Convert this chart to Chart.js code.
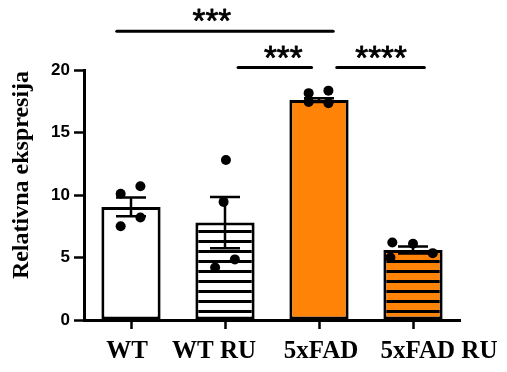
<!DOCTYPE html>
<html><head><meta charset="utf-8">
<script src="https://cdn.jsdelivr.net/npm/chart.js@4.4.1/dist/chart.umd.min.js"></script>
<style>html,body{margin:0;padding:0;background:#fff;}canvas{display:block;}</style>
</head><body>
<canvas id="c" width="507" height="372"></canvas>
<script>
// ---- data ----
const categories = ['WT', 'WT RU', '5xFAD', '5xFAD RU'];
const means = [9.05, 7.8, 17.6, 5.6];
const sems = [0.75, 2.05, 0.15, 0.28];
const pointsWT = [10.1, 10.7, 8.2, 7.5];
const pointsWTRU = [12.8, 9.45, 4.85, 4.2];
const points5xFAD = [18.15, 17.35, 18.35, 17.45];
const points5xFADRU = [6.2, 6.1, 5.35, 5.0];
const groupPoints = [pointsWT, pointsWTRU, points5xFAD, points5xFADRU];
const pointSpread = [[-0.11, 0.1, 0.1, -0.11], [0.01, -0.015, 0.105, -0.105], [-0.11, 0.1, 0.1, -0.11], [-0.22, 0, 0.21, -0.24]];
const yTicks = [0, 5, 10, 15, 20];
const yTitle = 'Relativna ekspresija';
// significance brackets: x extents on the group axis, level in y units, label
const sigSpans = [[-0.15, 2.15], [1.14, 1.92], [2.19, 3.12]];
const sigLevels = [23.1, 20.2, 20.2];
const sigLabelX = [0.86, 1.62, 2.66];
const sigLabels = ['***', '***', '****'];

// ---- drawing ----
const canvas = document.getElementById('c');
const ctx = canvas.getContext('2d');
const ORANGE = '#FF8307';
function hatch(bg) {
  const c = document.createElement('canvas'); c.width = 10; c.height = 10;
  const g = c.getContext('2d');
  g.fillStyle = bg; g.fillRect(0, 0, 10, 10);
  g.fillStyle = '#000'; g.fillRect(0, 0, 10, 3);
  return ctx.createPattern(c, 'repeat');
}
const fills = ['#ffffff', hatch('#ffffff'), ORANGE, hatch(ORANGE)];

const dots = [];
groupPoints.forEach((arr, i) => arr.forEach((v, k) => dots.push({x: i + pointSpread[i][k], y: v})));

const labelShift = [-4, -11, 2, 26];

const annot = {
  id: 'annot',
  afterDatasetsDraw(chart) {
    const c = chart.ctx, xs = chart.scales.x, ys = chart.scales.y;
    c.save();
    c.strokeStyle = '#000'; c.lineWidth = 2.5; c.lineCap = 'butt';
    means.forEach((m, i) => {
      const x = xs.getPixelForValue(i);
      const t = ys.getPixelForValue(m + sems[i]);
      const b = ys.getPixelForValue(m - sems[i]);
      c.beginPath();
      c.moveTo(x, t); c.lineTo(x, b);
      c.moveTo(x - 15, t); c.lineTo(x + 15, t);
      c.moveTo(x - 15, b); c.lineTo(x + 15, b);
      c.stroke();
    });
    c.restore();
  },
  afterDraw(chart) {
    const c = chart.ctx, xs = chart.scales.xd, ys = chart.scales.y;
    c.save();
    // brackets
    sigSpans.forEach((s, i) => {
      const y = ys.getPixelForValue(sigLevels[i]);
      c.strokeStyle = '#000'; c.lineWidth = 3.2; c.lineCap = 'round';
      c.beginPath();
      c.moveTo(xs.getPixelForValue(s[0]), y);
      c.lineTo(xs.getPixelForValue(s[1]), y);
      c.stroke();
      c.font = '33px "Liberation Sans"';
      c.fillStyle = '#000'; c.textAlign = 'center'; c.textBaseline = 'alphabetic';
      const m = c.measureText(sigLabels[i]);
      const yc = y - 16;
      const base = yc + (m.actualBoundingBoxAscent - m.actualBoundingBoxDescent) / 2;
      const tx = xs.getPixelForValue(sigLabelX[i]);
      c.fillText(sigLabels[i], tx, base);
      c.lineWidth = 0.8; c.lineCap = 'butt'; c.lineJoin = 'round';
      c.strokeText(sigLabels[i], tx, base);
    });
    // category labels
    c.font = 'bold 25px "Liberation Serif"';
    c.textAlign = 'center'; c.textBaseline = 'alphabetic'; c.fillStyle = '#000';
    categories.forEach((l, i) => {
      c.fillText(l, chart.scales.x.getPixelForValue(i) + labelShift[i], 358);
    });
    // y title
    c.translate(22, 175);
    c.rotate(-Math.PI / 2);
    c.font = 'bold 24px "Liberation Serif"';
    c.textBaseline = 'middle';
    c.fillText(yTitle, 0, 0);
    c.restore();
  }
};

new Chart(ctx, {
  type: 'bar',
  data: {
    labels: categories,
    datasets: [
      {type: 'bar', data: means, backgroundColor: fills, borderColor: '#000', borderWidth: 3,
       borderSkipped: false, barPercentage: 0.63, categoryPercentage: 1, grouped: false, order: 2},
      {type: 'scatter', data: dots, xAxisID: 'xd', yAxisID: 'y', pointRadius: 5,
       pointBackgroundColor: '#000', pointBorderWidth: 0, pointHoverRadius: 5, order: 1}
    ]
  },
  options: {
    responsive: false, animation: false, devicePixelRatio: 1,
    layout: {padding: {left: 0, top: 70, right: 47, bottom: 0}},
    plugins: {legend: {display: false}, tooltip: {enabled: false}},
    events: [],
    scales: {
      x: {type: 'category', offset: true,
          grid: {display: true, drawOnChartArea: false, drawTicks: true, tickLength: 9, tickWidth: 2.5, tickColor: '#000', offset: false},
          border: {display: true, color: '#000', width: 3},
          ticks: {display: false},
          afterFit(s) { s.height = 52; }},
      xd: {type: 'linear', display: false, offset: false, min: -0.5, max: 3.5, grid: {offset: false}},
      y: {type: 'linear', min: 0, max: 20,
          afterBuildTicks(s) { s.ticks = yTicks.map(v => ({value: v})); },
          ticks: {color: '#000', font: {family: 'Liberation Sans', weight: 'bold', size: 17}, padding: 4},
          grid: {display: true, drawOnChartArea: false, drawTicks: true, tickLength: 10, tickWidth: 2.5, tickColor: '#000'},
          border: {display: true, color: '#000', width: 3},
          afterFit(s) { s.width = 84; }}
    }
  },
  plugins: [annot]
});
</script>
</body></html>
